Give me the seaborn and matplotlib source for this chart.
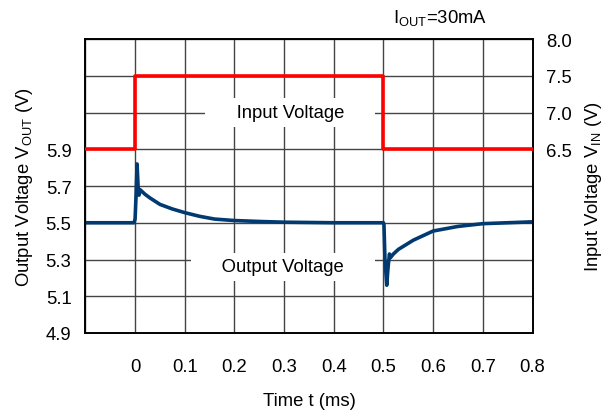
import numpy as np
import pandas as pd
import matplotlib
matplotlib.use("Agg")
import matplotlib.pyplot as plt
import seaborn as sns

# ---- data ----
t_out = [-0.1, -0.002, 0.0, 0.002, 0.004, 0.006, 0.008, 0.010, 0.012, 0.02, 0.03, 0.05,
         0.075, 0.1, 0.13, 0.16, 0.2, 0.25, 0.3, 0.4, 0.5, 0.501, 0.503, 0.5066, 0.509,
         0.512, 0.514, 0.52, 0.53, 0.56, 0.6, 0.65, 0.7, 0.75, 0.8]
v_out = [5.5, 5.5, 5.52, 5.65, 5.82, 5.7, 5.65, 5.68, 5.675, 5.655, 5.635, 5.6,
         5.575, 5.555, 5.535, 5.52, 5.512, 5.507, 5.503, 5.5, 5.5, 5.49, 5.3, 5.16, 5.25,
         5.33, 5.31, 5.33, 5.355, 5.405, 5.455, 5.48, 5.495, 5.5, 5.505]
t_in = [-0.1, 0.0, 0.0, 0.5, 0.5, 0.8]
v_in = [6.5, 6.5, 7.5, 7.5, 6.5, 6.5]

x_ticks = [0, 0.1, 0.2, 0.3, 0.4, 0.5, 0.6, 0.7, 0.8]
x_ticklabels = ["0", "0.1", "0.2", "0.3", "0.4", "0.5", "0.6", "0.7", "0.8"]
left_ticks = [4.9, 5.1, 5.3, 5.5, 5.7, 5.9, 6.1, 6.3, 6.5]
left_ticklabels = ["4.9", "5.1", "5.3", "5.5", "5.7", "5.9", "", "", ""]
right_ticks = [6.5, 7.0, 7.5, 8.0]
right_ticklabels = ["6.5", "7.0", "7.5", "8.0"]

sns.set_theme(style="white")
plt.rcParams['font.family'] = ['Liberation Sans', 'DejaVu Sans']
plt.rcParams['mathtext.fontset'] = 'custom'
plt.rcParams['mathtext.rm'] = 'Liberation Sans'

FS = 13.3

fig = plt.figure(figsize=(6.14, 4.14), dpi=100)
ax = fig.add_axes([85.4 / 614, (414 - 334) / 414, (532.5 - 85.4) / 614, (334 - 40) / 414])
ax2 = ax.twinx()

df_out = pd.DataFrame({"t": t_out, "v": v_out})
df_in = pd.DataFrame({"t": t_in, "v": v_in})

sns.lineplot(data=df_out, x="t", y="v", ax=ax, estimator=None, sort=False,
             color="#003A70", linewidth=2.6, zorder=5)
sns.lineplot(data=df_in, x="t", y="v", ax=ax2, estimator=None, sort=False,
             color="#FF0000", linewidth=2.6, zorder=5)

ax.set_xlim(-0.1, 0.8)
ax.set_ylim(4.9, 6.5)
ax2.set_ylim(4.0, 8.0)

ax.set_xticks(x_ticks)
ax.set_xticklabels(x_ticklabels)
ax.set_yticks(left_ticks)
ax.set_yticklabels(left_ticklabels)
ax2.set_yticks(right_ticks)
ax2.set_yticklabels(right_ticklabels)

ax.set_xticks(np.arange(-0.1, 0.81, 0.1), minor=True)
ax.grid(True, which="both", axis="x", color="#444444", linewidth=1.0)
ax.grid(True, which="major", axis="y", color="#444444", linewidth=1.0)
ax2.grid(False)
ax.set_axisbelow(True)

for a in (ax, ax2):
    for s in a.spines.values():
        s.set_color("black")
        s.set_linewidth(1.2)
ax.tick_params(axis="both", which="both", length=0, labelsize=FS, colors="black")
ax.tick_params(axis="x", pad=18)
ax.tick_params(axis="y", pad=10)
ax2.tick_params(axis="y", length=0, labelsize=FS, pad=10, colors="black")

ax.set_xlabel("Time t (ms)", fontsize=FS, color="black", labelpad=12)
ax.set_ylabel(r"Output Voltage V$_{\mathregular{OUT}}$ (V)", fontsize=FS, color="black", labelpad=8)
ax2.set_ylabel(r"Input Voltage V$_{\mathregular{IN}}$ (V)", fontsize=FS, color="black", labelpad=8)

ax.text(0.3125, 6.1, "     Input Voltage     ", ha="center", va="center", fontsize=FS,
        color="black", zorder=3,
        bbox=dict(boxstyle="square,pad=0.3", facecolor="white", edgecolor="none"))
ax.text(0.298, 5.26, "     Output Voltage     ", ha="center", va="center", fontsize=FS,
        color="black", zorder=3,
        bbox=dict(boxstyle="square,pad=0.3", facecolor="white", edgecolor="none"))

fig.text(440 / 614, 1 - 18 / 414, r"I$_{\mathregular{OUT}}$=30mA", ha="center", va="center",
         fontsize=FS, color="black")

fig.savefig("out.png", dpi=100, facecolor="white")
